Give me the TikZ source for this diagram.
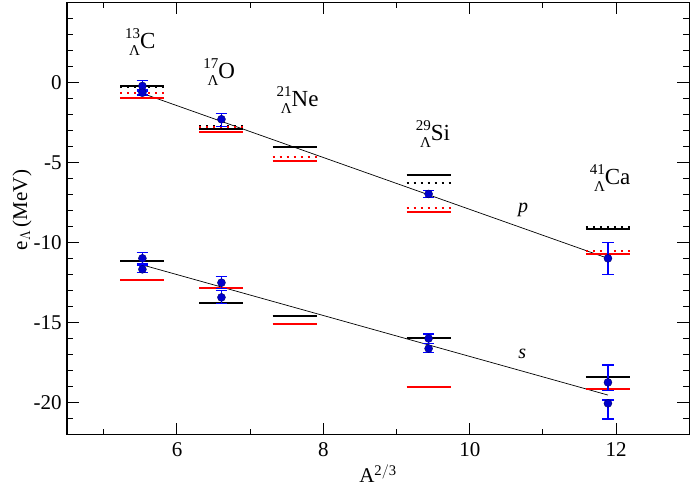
\documentclass[tikz,border=0pt]{standalone}
\usepackage{fontspec}
\setmainfont{Liberation Serif}
\newcommand\isolab[2]{{\fontsize{15}{15}\selectfont\raisebox{10pt}{#1}\llap{\raisebox{-7pt}{Λ}}}#2}
\begin{document}
\begin{tikzpicture}[x=1pt,y=1pt,
  lvl/.style={line width=2pt},
  dotl/.style={line width=2pt,dash pattern=on 2pt off 5pt},
  ebar/.style={blue,line width=1.3pt},
  tick/.style={line width=1pt},
  fit/.style={black,line width=0.7pt},
  lab/.style={font=\fontsize{21}{24}\selectfont,inner sep=0pt},
  iso/.style={font=\fontsize{23}{26}\selectfont,inner sep=0pt,anchor=base}]
\useasboundingbox (0,0) rectangle (690,489);
% axes
\begin{scope}[shift={(-262.4pt,406.7pt)},x=73.2pt,y=16.02pt]
\draw[line width=1.2pt] (4.5,-22) rectangle (13,5);
\foreach \x in {5,7,9,11} {\draw[tick] (\x,-22) -- ++(0,0.375); \draw[tick] (\x,5) -- ++(0,-0.375);}
\foreach \x in {6,8,10,12} {\draw[tick] (\x,-22) -- ++(0,0.75); \draw[tick] (\x,5) -- ++(0,-0.75);}
\foreach \y in {-21,-19,-18,-17,-16,-14,-13,-12,-11,-9,-8,-7,-6,-4,-3,-2,-1,1,2,3,4} {\draw[tick] (4.5,\y) -- ++(0.082,0); \draw[tick] (13,\y) -- ++(-0.082,0);}
\foreach \y in {-20,-15,-10,-5,0} {\draw[tick] (4.5,\y) -- ++(0.164,0); \draw[tick] (13,\y) -- ++(-0.164,0);
  \node[lab,anchor=east] at (4.43,\y) {\y};}
\end{scope}
\foreach \x/\px in {6/177,8/323.4,10/469.8,12/616.2} {\node[lab] at (\px,39) {\x};}
\node[lab,anchor=base] at (378,6) {A$^{\mathrm{2/3}}$};
\node[lab,rotate=90] at (22,279) {e$_\Lambda$\,(MeV)};
% data
\begin{scope}[shift={(-262.4pt,412.5pt)},x=73.2pt,y=16.9pt]
\newcommand\lev[3]{\draw[#3] (#1-0.3,#2) -- (#1+0.3,#2);}
\newcommand\ep[4]{\draw[ebar] (#1,#3) -- (#1,#4) (#1-0.08,#3) -- (#1+0.08,#3) (#1-0.08,#4) -- (#1+0.08,#4);
  \fill[blue!80!black,draw=black!60!blue,line width=0.4pt] (#1,#2) circle (4pt);}
\draw[fit] (5.53,-1.0) -- (11.89,-10.76);
\draw[fit] (5.53,-11.15) -- (11.89,-18.85);
\lev{5.53}{-0.56}{lvl,black} \lev{5.53}{-0.64}{dotl,black} \lev{5.53}{-1.0}{dotl,red} \lev{5.53}{-1.25}{lvl,red}
\lev{6.61}{-3.09}{lvl,black} \lev{6.61}{-2.93}{dotl,black} \lev{6.61}{-3.0}{dotl,red} \lev{6.61}{-3.28}{lvl,red}
\lev{7.61}{-4.17}{lvl,black} \lev{7.61}{-4.74}{dotl,red} \lev{7.61}{-5.02}{lvl,red}
\lev{9.44}{-5.85}{lvl,black} \lev{9.44}{-6.28}{dotl,black} \lev{9.44}{-7.78}{dotl,red} \lev{9.44}{-8.04}{lvl,red}
\lev{11.89}{-9.02}{lvl,black} \lev{11.89}{-8.89}{dotl,black} \lev{11.89}{-10.31}{dotl,red} \lev{11.89}{-10.52}{lvl,red}
\lev{5.53}{-10.9}{lvl,black} \lev{5.53}{-12.02}{lvl,red}
\lev{6.61}{-13.38}{lvl,black} \lev{6.61}{-12.53}{lvl,red}
\lev{7.61}{-14.17}{lvl,black} \lev{7.61}{-14.63}{lvl,red}
\lev{9.44}{-15.47}{lvl,black} \lev{9.44}{-18.36}{lvl,red}
\lev{11.89}{-17.78}{lvl,black} \lev{11.89}{-18.47}{lvl,red}
\ep{5.53}{-0.56}{-0.22}{-0.85} \ep{5.53}{-0.96}{-0.8}{-1.1}
\ep{6.61}{-2.53}{-2.2}{-2.95}
\ep{9.44}{-6.95}{-6.75}{-7.15}
\ep{11.89}{-10.76}{-9.83}{-11.7}
\ep{5.53}{-10.76}{-10.4}{-11.1} \ep{5.53}{-11.41}{-11.2}{-11.6}
\ep{6.61}{-12.2}{-11.85}{-12.55} \ep{6.61}{-13.07}{-12.67}{-13.42}
\ep{9.44}{-15.5}{-15.24}{-15.8} \ep{9.44}{-16.1}{-15.8}{-16.34}
\ep{11.89}{-18.1}{-17.07}{-18.6} \ep{11.89}{-19.34}{-19.14}{-20.27}
\node[font=\fontsize{20}{22}\selectfont\itshape,inner sep=0pt] at (10.73,-7.9) {p};
\node[font=\fontsize{20}{22}\selectfont\itshape,inner sep=0pt] at (10.72,-16.4) {s};
\node[iso] at (5.5,1.65) {\isolab{13}{C}};
\node[iso] at (6.58,-0.1) {\isolab{17}{O}};
\node[iso] at (7.65,-1.75) {\isolab{21}{Ne}};
\node[iso] at (9.5,-3.8) {\isolab{29}{Si}};
\node[iso] at (11.92,-6.4) {\isolab{41}{Ca}};
\end{scope}
\end{tikzpicture}
\end{document}
